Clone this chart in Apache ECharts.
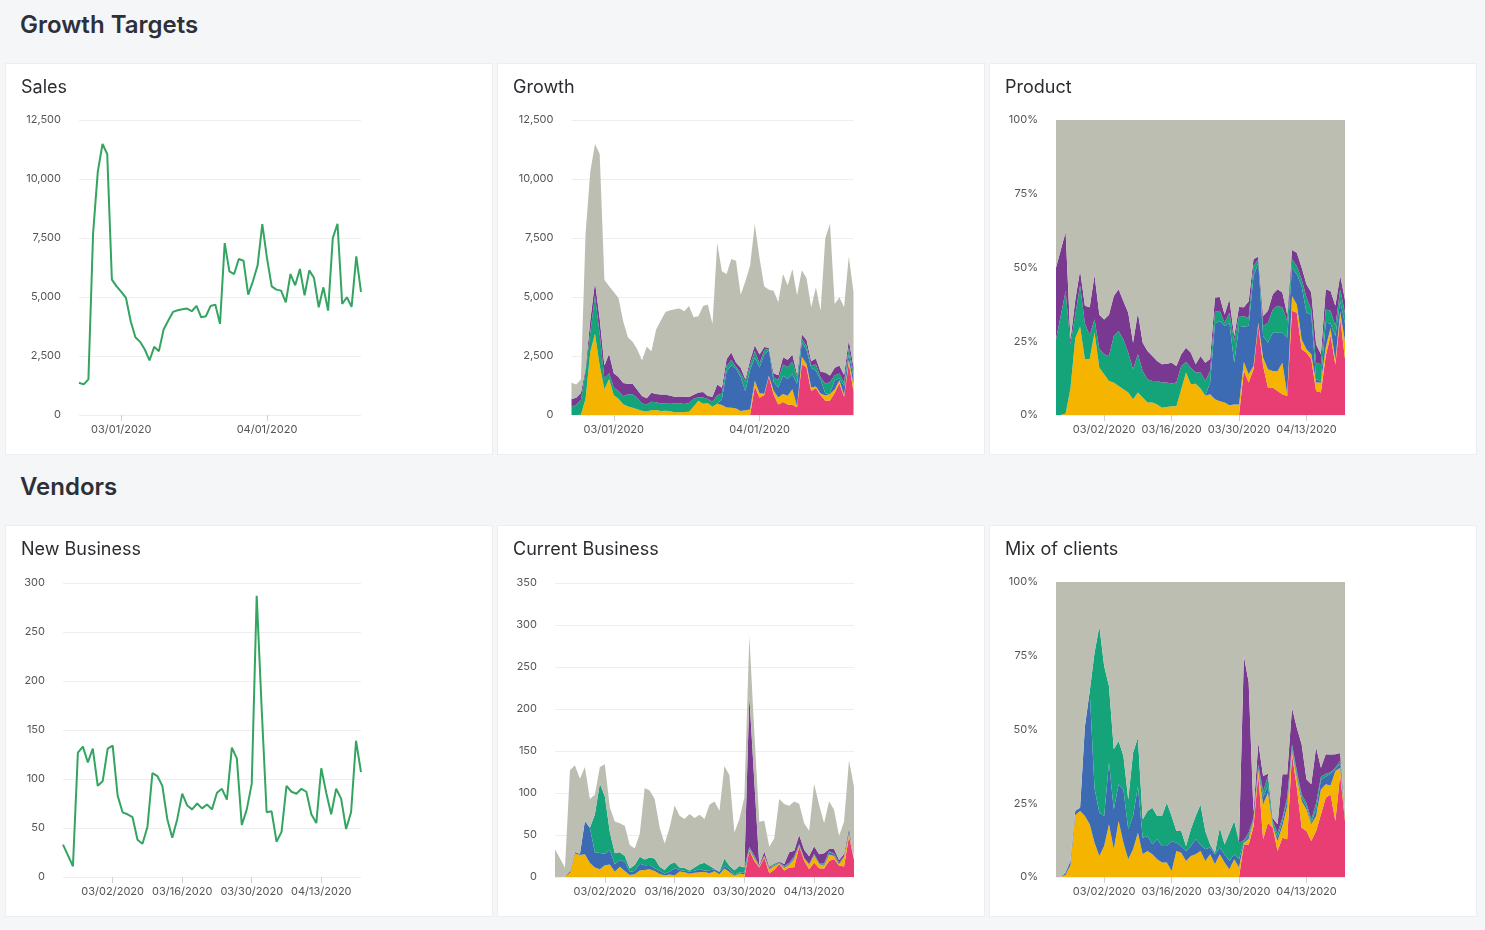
<!DOCTYPE html>
<html>
<head>
<meta charset="utf-8">
<script src="https://cdn.jsdelivr.net/npm/echarts@6/dist/echarts.min.js"></script>
<style>
  html, body { margin:0; padding:0; background:#f5f6f8; }
  body { width:1485px; height:930px; position:relative; overflow:hidden; font-family: Inter, "Noto Sans", sans-serif; }
  .section { position:absolute; left:20px; font-size:24px; line-height:30px; font-weight:600; color:#2e3039; }
  .card { position:absolute; width:488px; height:392px; background:#fff; border:1px solid #eceef1; box-sizing:border-box; }
  .card .title { position:absolute; left:15px; top:12px; font-size:18px; line-height:22px; color:#2b2c30; z-index:2; }
  .card .chart { position:absolute; left:0; top:0; width:488px; height:392px; }
</style>
</head>
<body>
<div class="section" style="top:10px">Growth Targets</div>
<div class="section" style="top:472px">Vendors</div>

<div class="card" style="left:5px;top:63px"><div class="title">Sales</div><div class="chart" id="c1"></div></div>
<div class="card" style="left:497px;top:63px"><div class="title">Growth</div><div class="chart" id="c2"></div></div>
<div class="card" style="left:989px;top:63px"><div class="title">Product</div><div class="chart" id="c3"></div></div>
<div class="card" style="left:5px;top:525px"><div class="title">New Business</div><div class="chart" id="c4"></div></div>
<div class="card" style="left:497px;top:525px"><div class="title">Current Business</div><div class="chart" id="c5"></div></div>
<div class="card" style="left:989px;top:525px"><div class="title">Mix of clients</div><div class="chart" id="c6"></div></div>

<script>
// ---------- DATA ----------
const dates = [
 '02/21/2020','02/22/2020','02/23/2020','02/24/2020','02/25/2020','02/26/2020','02/27/2020','02/28/2020','02/29/2020',
 '03/01/2020','03/02/2020','03/03/2020','03/04/2020','03/05/2020','03/06/2020','03/07/2020','03/08/2020','03/09/2020','03/10/2020',
 '03/11/2020','03/12/2020','03/13/2020','03/14/2020','03/15/2020','03/16/2020','03/17/2020','03/18/2020','03/19/2020','03/20/2020',
 '03/21/2020','03/22/2020','03/23/2020','03/24/2020','03/25/2020','03/26/2020','03/27/2020','03/28/2020','03/29/2020','03/30/2020','03/31/2020',
 '04/01/2020','04/02/2020','04/03/2020','04/04/2020','04/05/2020','04/06/2020','04/07/2020','04/08/2020','04/09/2020','04/10/2020',
 '04/11/2020','04/12/2020','04/13/2020','04/14/2020','04/15/2020','04/16/2020','04/17/2020','04/18/2020','04/19/2020','04/20/2020','04/21/2020'
];
const monthlyTicks = ['03/01/2020','04/01/2020'];
const weeklyTicks = ['03/02/2020','03/16/2020','03/30/2020','04/13/2020'];

// Sales (total) per day
const salesTotal = [1367,1296,1508,7707,10314,11483,11060,5735,5453,5213,4960,3973,3297,3100,2776,2311,2888,2705,3621,4002,
 4368,4438,4480,4509,4396,4622,4142,4185,4622,4678,3861,7285,6087,5974,6608,6538,5100,5664,6340,8088,
 6650,5453,5312,5270,4776,5974,5495,6186,5072,6129,5805,4565,5410,4424,7496,8102,4706,4988,4579,6721,5213];

// Product mix shares (%), per segment
const prodPink   = [0,0,0,0,0,0,0,0,0,0,0,0,0,0,0,0,0,0,0,0,0,0,0,0,0,0,0,0,0,0,0,0,0,0,0,0,0,0,0,15,11,15.5,30.7,16.6,9.3,9.3,8.1,7,6.4,35.3,34.7,22.3,21.1,18.9,8.1,7.6,20,27,17,33,19];
const prodYellow = [0,0,0.5,9,26,30,19,19,28,16,13.8,11.5,11,9.8,8.7,7.6,5.3,7.6,5.9,4.2,4.2,3.6,2.5,2.7,3,3,8.7,14.4,10.4,10.6,9,6.5,7,5.3,4.7,4.2,3.3,3.6,3.6,3,2.8,1.1,0.6,2.8,6.2,5.6,6.8,10.7,0.6,5,2.8,3.3,1.2,1.7,2.9,3.4,3,2.5,1.5,2,6];
const prodBlue   = [0,0,0,0,0,0,0,0,0,0,0,0,0,0,0,0,0,0,0,0,0,0,0,0,0,0,0,0,0,0,0,0,4,25.7,27.2,26,28,14.1,26.6,12,16.4,30.4,20.3,7.4,9,13,13,10.2,19.2,9.7,10.2,18.1,12.4,13.5,1.1,0.5,8.3,1.5,8.3,3.6,6];
const prodGreen  = [25.6,33.8,41.5,15,8,14,12,8,4.5,6.3,6.8,8.5,15.8,18.7,16.9,13.5,10.2,13,9,7.9,7.3,7.9,8.5,8.3,7.7,8,7.9,3.6,5.6,3.8,5.5,5,4,4,3.4,1.1,3.4,7.4,3.4,3.5,2.8,3.5,1.2,3.4,6.8,7.9,9.1,8.5,5.7,2.8,2.8,2.3,5.1,1.7,5.6,5.7,4.5,4.3,3.4,4,3.5];
const prodPurple = [24.3,22.2,20,1.5,5,5,6,9.5,15,11.7,11.8,14,13.5,14.1,13,13.6,9,14.1,9.6,9.6,8.5,6.8,6.2,6.4,7,5.6,4,4.8,5.1,2.8,5.5,6.2,4,4.8,4.7,2.8,4.5,1.7,3,3,5.6,2.3,0.9,3.4,4,5.1,5.6,5.1,2.2,3.1,4.5,4,4.5,5.7,6.3,3.4,6.8,6.7,6.8,4.7,4.5];
const prodGray   = [50.1,44,38,74.5,61,51,63,63.5,52.5,66,67.6,66,59.7,57.4,61.4,65.3,75.5,65.3,75.5,78.3,80,81.7,82.8,82.6,82.3,83.4,79.4,77.2,78.9,82.8,80,82.3,81,60.2,60,65.9,60.8,73.2,63.4,63.5,61.4,47.2,46.3,66.4,64.7,59.1,57.4,58.5,65.9,44.1,45,50,55.7,58.5,76,79.4,57.4,58,63,52.7,61];

// New business (total) per day
const newBizTotal = [33,22,11,127,133,117,131,93,98,131,134,83,66,64,61,38,34,51,106,103,93,59,40,59,85,73,69,75,70,74,
 69,86,90,79,132,121,53,69,95,287,172,66,67,36,46,93,87,85,90,87,64,55,111,86,64,90,80,49,66,139,107];

// Client mix shares (%), per segment
const mixPink   = [0,0,0,0,0,0,0,0,0,0,0,0,0,0,0,0,0,0,0,0,0,0,0,0,0,0,0,0,0,0,0,0,0,0,0,0,0,0,0,11,11,17,34.8,12.8,18.4,16.7,8.8,13.3,12.8,41.6,30.3,16.7,15.6,12.2,15.6,21.2,26.9,28,19,34.8,19];
const mixYellow = [0,0,0.8,4,21,22.4,20.7,17.9,11.6,7.1,10.5,17.9,9.4,19,11.6,6,9.4,15,7.7,8.8,7.7,6,4.9,4.9,2,8.8,8.2,5.4,7.1,7.7,8.8,5.4,7.7,4.3,7.7,4.9,2.6,6,3.2,0.5,2,2,1.7,11.8,10.2,0.6,3.4,4,11.2,1.1,3.4,9.1,7.3,5.7,5.1,8.5,4.5,3,16.9,2.2,1.1];
const mixBlue   = [0,0,0.7,1.5,1.5,1.1,30.3,45.1,18.4,14.7,10.2,20.9,13.5,12.4,18.1,10.2,11.3,15.8,5.6,5.1,3.4,6.8,5.6,5.6,10.2,2.8,2.3,3.4,3.4,5.1,2.2,4,2.3,3.4,2.3,2.8,2.8,1.7,2.8,0.5,1,0.5,1.1,2.4,2.4,0.7,1.3,1.7,2,1.1,1.3,1.2,1.1,0.6,2.3,3.3,2.6,4,0.6,1.5,0.9];
const mixGreen  = [0,0,0,0,0,0,0,0,46,63.2,50.8,25.9,20.4,14.7,11.3,10.1,21.4,16.4,6.2,8.5,12.4,7.9,10.2,14.7,8.5,4,5.1,1.7,5.7,7.9,13.6,6.2,1,0.5,6.7,3.3,9.6,11.3,5.6,0.5,1,0.5,0.6,2,3.2,1,1.5,1,1,1.2,1,1,1,1,2,1,1,0.5,0.5,1,0.5];
const mixPurple = [0,0,0,0,0,0,0,0,0,0,0,0,0,0,0,0,0,0,0,0,0,0,0,0,0,0,0,0,0,0,0,0,0,0,0,0,0,0,0.6,62.5,51,2,7.3,5.2,0.8,1,2.9,14.8,7.8,12.4,14.6,17,8.1,11.9,19,3,6.6,6,4.6,2.5,0.5];
const mixGray   = [100,100,98.5,94.5,77.5,76.5,49,37,24,15,28.5,35.3,56.7,53.9,59,73.7,57.9,52.8,80.5,77.6,76.5,79.3,79.3,74.8,79.3,84.4,84.4,89.5,83.8,79.3,75.4,84.4,89,91.8,83.3,89,85,81,87.8,25,34,78,54.5,65.8,65,80,82.1,65.2,65.2,42.6,49.4,55,66.9,68.6,56,63,58.4,58.5,58.4,58,78];

const segNames  = ['Segment A','Segment B','Segment C','Segment D','Segment E','Other'];
const segColors = ['#e83e73','#f4b400','#3c6bb4','#15a37a','#7a3990','#bdbeb2'];
const lineColor = '#34a561';

// ---------- HELPERS ----------
const FONT = 'Inter, "Noto Sans", sans-serif';
function baseOption(grid, yMax, yInt, pct, ticks) {
  return {
    animation: false,
    grid: Object.assign({containLabel:false}, grid),
    xAxis: {
      type: 'category', data: dates, boundaryGap: false,
      axisLine: {show: false},
      axisTick: {show: true, length: 6, interval: (i, v) => ticks.indexOf(v) >= 0, lineStyle: {color: '#cfd1d4'}},
      axisLabel: {interval: (i, v) => ticks.indexOf(v) >= 0, color: '#555', fontSize: 11, margin: 9, fontFamily: FONT},
      splitLine: {show: false}
    },
    yAxis: {
      type: 'value', min: 0, max: yMax, interval: yInt,
      axisLine: {show: false}, axisTick: {show: false},
      axisLabel: {color: '#555', fontSize: 11, margin: 18, fontFamily: FONT,
        formatter: pct ? '{value}%' : (v => v.toLocaleString('en-US'))},
      splitLine: {lineStyle: {color: '#eeeeee', width: 1}}
    },
    series: []
  };
}
function lineSeries(values) {
  return {type: 'line', data: values, symbol: 'none', smooth: false,
    lineStyle: {color: lineColor, width: 2}, itemStyle: {color: lineColor}, silent: true};
}
function stackSeries(layers) {
  return layers.map((vals, k) => ({
    name: segNames[k], type: 'line', stack: 'total', data: vals, symbol: 'none', smooth: false,
    lineStyle: {width: 0}, itemStyle: {color: segColors[k]},
    areaStyle: {color: segColors[k], opacity: 1}, silent: true
  }));
}
function scaled(shares, totals) { return shares.map((s, i) => +(s * totals[i] / 100).toFixed(1)); }

const prodLayers = [prodPink, prodYellow, prodBlue, prodGreen, prodPurple, prodGray];
const mixLayers  = [mixPink, mixYellow, mixBlue, mixGreen, mixPurple, mixGray];

// ---------- CHARTS ----------
function make(id, opt) { echarts.init(document.getElementById(id), null, {renderer: 'canvas'}).setOption(opt); }

let o1 = baseOption({left: 73, top: 56, width: 282, height: 295}, 12500, 2500, false, monthlyTicks);
o1.series = [lineSeries(salesTotal)];
make('c1', o1);

let o2 = baseOption({left: 73.5, top: 56, width: 282, height: 295}, 12500, 2500, false, monthlyTicks);
o2.series = stackSeries(prodLayers.map(l => scaled(l, salesTotal)));
make('c2', o2);

let o3 = baseOption({left: 66, top: 56, width: 289, height: 295}, 100, 25, true, weeklyTicks);
o3.series = stackSeries(prodLayers);
make('c3', o3);

let o4 = baseOption({left: 57, top: 57, width: 298, height: 294}, 300, 50, false, weeklyTicks);
o4.series = [lineSeries(newBizTotal)];
make('c4', o4);

let o5 = baseOption({left: 57, top: 57, width: 299, height: 294}, 350, 50, false, weeklyTicks);
o5.series = stackSeries(mixLayers.map(l => scaled(l, newBizTotal)));
make('c5', o5);

let o6 = baseOption({left: 66, top: 56, width: 289, height: 295}, 100, 25, true, weeklyTicks);
o6.series = stackSeries(mixLayers);
make('c6', o6);
</script>
</body>
</html>
